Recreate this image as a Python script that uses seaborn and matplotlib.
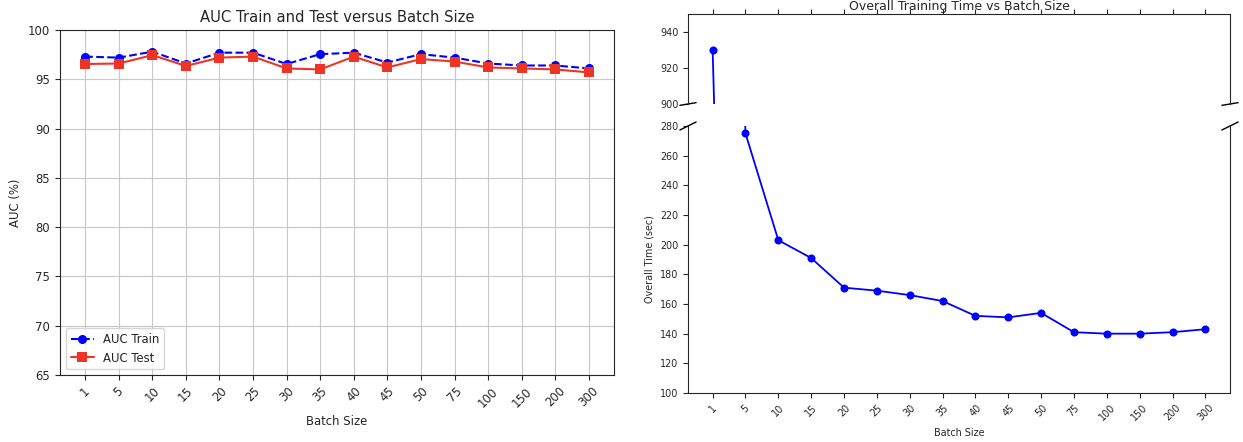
import numpy as np
import pandas as pd
import matplotlib
matplotlib.use("Agg")
import matplotlib.pyplot as plt
import seaborn as sns

# batch sizes used on both panels
batch_sizes = ["1", "5", "10", "15", "20", "25", "30", "35", "40", "45",
               "50", "75", "100", "150", "200", "300"]

# AUC (%) per batch size
auc_train = [97.3, 97.2, 97.8, 96.6, 97.7, 97.7, 96.55, 97.55, 97.7, 96.7,
             97.55, 97.2, 96.6, 96.4, 96.4, 96.1]
auc_test = [96.55, 96.6, 97.45, 96.35, 97.2, 97.3, 96.1, 96.0, 97.3, 96.2,
            97.05, 96.8, 96.2, 96.1, 96.0, 95.7]

# overall training time (sec) per batch size
train_time = [930, 275, 203, 191, 171, 169, 166, 162, 152, 151,
              154, 141, 140, 140, 141, 143]

df = pd.DataFrame({"batch": batch_sizes, "train": auc_train,
                   "test": auc_test, "time": train_time})

sns.set_style("ticks")
plt.rcParams["font.family"] = ["DejaVu Sans"]

W, H = 1243, 442
fig = plt.figure(figsize=(W / 100, H / 100), dpi=100)
fig.patch.set_facecolor("white")

fs = 8.4   # left panel text
fs2 = 6.9  # right panel text

# ---- left: AUC train / test ----
ax = fig.add_axes([60 / W, (H - 375) / H, 554 / W, 345 / H])
sns.lineplot(data=df, x="batch", y="train", ax=ax, color="blue", linestyle="--",
             marker="o", markersize=6.5, markeredgewidth=0, label="AUC Train", sort=False)
sns.lineplot(data=df, x="batch", y="test", ax=ax, color="#EE3424", linestyle="-",
             marker="s", markersize=6.5, markeredgewidth=0, label="AUC Test", sort=False)
ax.lines[0].set_linestyle("--")
ax.set_ylim(65, 100)
ax.set_xlim(-0.75, len(batch_sizes) - 0.25)
ax.grid(True, color="#c8c8c8", linewidth=0.8)
ax.set_axisbelow(True)
ax.set_title("AUC Train and Test versus Batch Size", fontsize=10.6)
ax.set_xlabel("Batch Size", fontsize=fs)
ax.set_ylabel("AUC (%)", fontsize=fs)
ax.tick_params(axis="x", labelsize=fs, rotation=45)
ax.tick_params(axis="y", labelsize=fs)
for s in ax.spines.values():
    s.set_visible(True)
    s.set_linewidth(0.8)
leg = ax.legend(loc="lower left", fontsize=fs, frameon=True)
leg.get_lines()[0].set_linestyle("--")

# ---- right: broken axis training time ----
ax_top = fig.add_axes([688 / W, (H - 104) / H, 542 / W, 90 / H])
ax_bot = fig.add_axes([688 / W, (H - 393) / H, 542 / W, 267 / H], sharex=ax_top)
for a in (ax_top, ax_bot):
    sns.lineplot(data=df, x="batch", y="time", ax=a, color="blue", marker="o",
                 markersize=5.8, markeredgewidth=0, linewidth=1.3, sort=False)
    a.set_xlim(-0.75, len(batch_sizes) - 0.25)
    a.tick_params(labelsize=fs2)
    for s in a.spines.values():
        s.set_linewidth(0.8)
        s.set_visible(True)
ax_top.set_ylim(900, 950)
ax_top.set_yticks([900, 920, 940])
ax_bot.set_ylim(100, 280)
ax_bot.set_yticks(range(100, 281, 20))
ax_top.spines["bottom"].set_visible(False)
ax_bot.spines["top"].set_visible(False)
ax_top.xaxis.tick_top()
ax_top.tick_params(labeltop=False)
ax_bot.xaxis.tick_bottom()
ax_bot.tick_params(axis="x", rotation=45)
ax_top.set_xlabel("")
ax_top.set_ylabel("")
ax_bot.set_xlabel("Batch Size", fontsize=fs2)
ax_bot.set_ylabel("Overall Time (sec)", fontsize=fs2)
ax_top.set_title("Overall Training Time vs Batch Size", fontsize=9.0, pad=3)

d = 0.015
kw = dict(transform=ax_top.transAxes, color="k", clip_on=False, linewidth=1)
ax_top.plot((-d, d), (-d, d), **kw)
ax_top.plot((1 - d, 1 + d), (-d, d), **kw)
kw.update(transform=ax_bot.transAxes)
ax_bot.plot((-d, d), (1 - d, 1 + d), **kw)
ax_bot.plot((1 - d, 1 + d), (1 - d, 1 + d), **kw)

fig.savefig("out.png", dpi=100, facecolor="white")
